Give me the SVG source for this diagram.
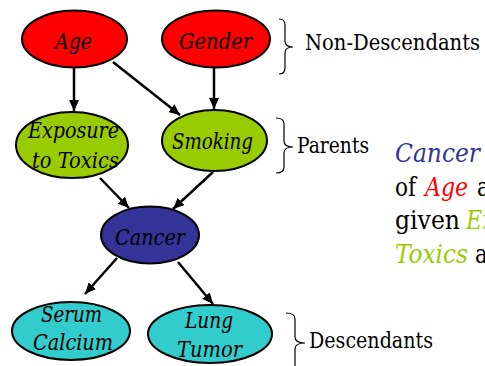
<svg xmlns="http://www.w3.org/2000/svg" width="485" height="366" viewBox="0 0 485 366">
  <defs>
    <style>
      .node ellipse { stroke: #000; stroke-width: 2; }
      text { font-family: 'DejaVu Serif Condensed', 'DejaVu Serif', serif; fill: #000; }
      .red { fill: #FF0000; }
      .green { fill: #99CC00; }
      .navy { fill: #333399; }
      .cyan { fill: #33CCCC; }
      .lbl { font-style: italic; font-size: 22px; }
      .edge { stroke: #000; stroke-width: 2.5; fill: none; marker-end: url(#arrow); }
      .brace { stroke: #000; stroke-width: 1.2; fill: none; }
      .note { font-size: 22px; }
      .stmt { font-size: 25.5px; }
      .it { font-style: italic; }
      text.red { fill: #FF0000; }
      text.green { fill: #99CC00; }
      text.navy { fill: #333399; }
    </style>
    <marker id="arrow" markerUnits="userSpaceOnUse" markerWidth="12" markerHeight="10" refX="11" refY="5" orient="auto">
      <path d="M0,0 L11,5 L0,10 z" fill="#000"/>
    </marker>
  </defs>

  <!-- connectors -->
  <g id="edges">
    <line class="edge" x1="74" y1="68" x2="74" y2="111"/>
    <line class="edge" x1="113" y1="62" x2="180" y2="115"/>
    <line class="edge" x1="214" y1="68" x2="214" y2="109"/>
    <line class="edge" x1="100" y1="178" x2="129" y2="208"/>
    <line class="edge" x1="213" y1="172" x2="173" y2="209"/>
    <line class="edge" x1="117" y1="258" x2="85" y2="294"/>
    <line class="edge" x1="178" y1="262" x2="213" y2="304"/>
  </g>

  <!-- nodes -->
  <g id="age" class="node">
    <ellipse class="red" cx="74.5" cy="39" rx="52.5" ry="28.5"/>
    <text class="lbl" x="55" y="49" textLength="37" lengthAdjust="spacingAndGlyphs">Age</text>
  </g>
  <g id="gender" class="node">
    <ellipse class="red" cx="216" cy="39" rx="54" ry="28.5"/>
    <text class="lbl" x="179" y="49" textLength="73" lengthAdjust="spacingAndGlyphs">Gender</text>
  </g>
  <g id="exposure" class="node">
    <ellipse class="green" cx="72" cy="145" rx="56" ry="33"/>
    <text class="lbl" x="28" y="138" textLength="91" lengthAdjust="spacingAndGlyphs">Exposure</text>
    <text class="lbl" x="32" y="168" textLength="87" lengthAdjust="spacingAndGlyphs">to Toxics</text>
  </g>
  <g id="smoking" class="node">
    <ellipse class="green" cx="214.5" cy="140.5" rx="52.5" ry="30.5"/>
    <text class="lbl" x="172" y="149" textLength="81" lengthAdjust="spacingAndGlyphs">Smoking</text>
  </g>
  <g id="cancer" class="node">
    <ellipse class="navy" cx="150" cy="235" rx="49" ry="28.5"/>
    <text class="lbl" x="115" y="245" textLength="70" lengthAdjust="spacingAndGlyphs">Cancer</text>
  </g>
  <g id="serum" class="node">
    <ellipse class="cyan" cx="71" cy="331" rx="59" ry="29"/>
    <text class="lbl" x="41" y="322" textLength="61" lengthAdjust="spacingAndGlyphs">Serum</text>
    <text class="lbl" x="33" y="350" textLength="80" lengthAdjust="spacingAndGlyphs">Calcium</text>
  </g>
  <g id="lung" class="node">
    <ellipse class="cyan" cx="210" cy="334" rx="62" ry="29"/>
    <text class="lbl" x="185" y="328" textLength="48" lengthAdjust="spacingAndGlyphs">Lung</text>
    <text class="lbl" x="177" y="357" textLength="65" lengthAdjust="spacingAndGlyphs">Tumor</text>
  </g>

  <!-- group braces and their labels -->
  <g id="non-descendants">
    <path class="brace" d="M279,19 Q285,19 285,25 L285,41 Q285,47 293,47 Q285,47 285,53 L285,68 Q285,74 279,74"/>
    <text class="note" x="305" y="50" textLength="175" lengthAdjust="spacingAndGlyphs">Non-Descendants</text>
  </g>
  <g id="parents">
    <path class="brace" d="M276,118 Q284,118 284,124 L284,141 Q284,147 293,147 Q284,147 284,153 L284,167 Q284,173 276,173"/>
    <text class="note" x="297" y="153" textLength="72" lengthAdjust="spacingAndGlyphs">Parents</text>
  </g>
  <g id="descendants">
    <path class="brace" d="M286,313 Q295,313 295,319 L295,337 Q295,343 305,343 Q295,343 295,349 L295,367 Q295,373 286,373"/>
    <text class="note" x="309" y="348" textLength="124" lengthAdjust="spacingAndGlyphs">Descendants</text>
  </g>

  <!-- independence statement, running past the right edge -->
  <g id="statement" class="stmt">
    <text class="it navy" x="395" y="162" textLength="85" lengthAdjust="spacingAndGlyphs">Cancer</text>
    <text x="395" y="196" textLength="21" lengthAdjust="spacingAndGlyphs">of</text>
    <text class="it red" x="425" y="196" textLength="43" lengthAdjust="spacingAndGlyphs">Age</text>
    <text x="477" y="196" textLength="40" lengthAdjust="spacingAndGlyphs">and</text>
    <text x="395" y="229" textLength="65" lengthAdjust="spacingAndGlyphs">given</text>
    <text class="it green" x="466" y="229" textLength="106" lengthAdjust="spacingAndGlyphs">Exposure</text>
    <text class="it green" x="395" y="263" textLength="73" lengthAdjust="spacingAndGlyphs">Toxics</text>
    <text x="475" y="263" textLength="40" lengthAdjust="spacingAndGlyphs">and</text>
  </g>
</svg>
